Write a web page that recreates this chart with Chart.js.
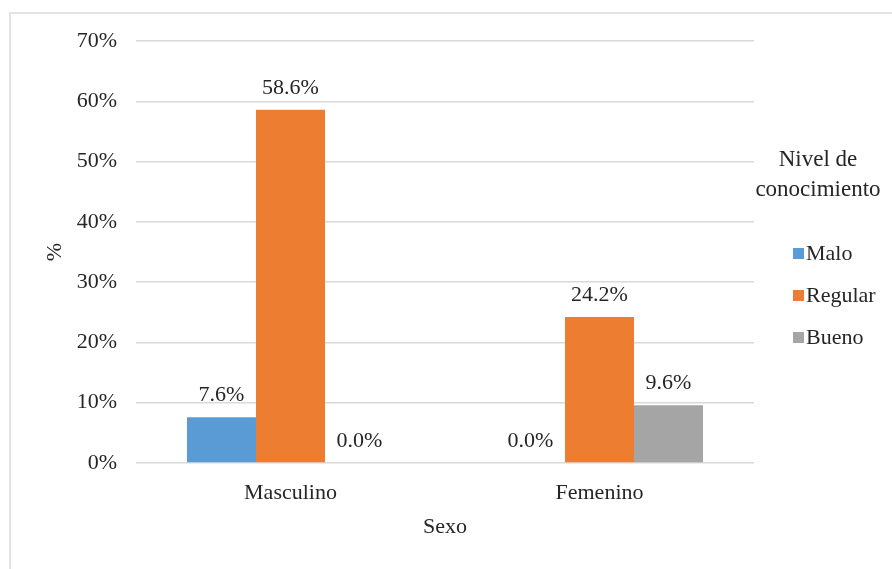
<!DOCTYPE html>
<html>
<head>
<meta charset="utf-8">
<script src="https://cdn.jsdelivr.net/npm/chart.js@4/dist/chart.umd.min.js"></script>
<style>
  html, body { margin: 0; padding: 0; background: #fff; }
  #wrap { position: relative; width: 892px; height: 569px; overflow: hidden; }
  #frame { position: absolute; left: 9px; top: 12px; width: 1000px; height: 1000px;
           border-left: 2px solid #e3e3e3; border-top: 2px solid #e3e3e3; box-sizing: border-box; }
  canvas { position: absolute; left: 0; top: 0; }
</style>
</head>
<body>
<div id="wrap">
  <div id="frame"></div>
  <canvas id="c" width="892" height="569"></canvas>
</div>
<script>
// Porcentaje de nivel de conocimiento según sexo
const categories = ['Masculino', 'Femenino'];
const seriesNames = ['Malo', 'Regular', 'Bueno'];
const malo = [7.6, 0.0];
const regular = [58.6, 24.2];
const bueno = [0.0, 9.6];
const legendTitle = ['Nivel de', 'conocimiento'];
const xTitle = 'Sexo';
const yTitle = '%';

const colors = ['#5B9BD5', '#ED7D31', '#A5A5A5'];
const textColor = '#262626';
const serif = "'Liberation Serif', 'DejaVu Serif', serif";
const fontSize = 22;

const valueLabels = {
  id: 'valueLabels',
  afterDatasetsDraw(chart) {
    const ctx = chart.ctx;
    ctx.save();
    ctx.font = fontSize + 'px ' + serif;
    ctx.fillStyle = textColor;
    ctx.textAlign = 'center';
    ctx.textBaseline = 'bottom';
    chart.data.datasets.forEach((ds, i) => {
      const meta = chart.getDatasetMeta(i);
      meta.data.forEach((bar, j) => {
        ctx.fillText(ds.data[j].toFixed(1) + '%', bar.x, bar.y - 11);
      });
    });
    ctx.restore();
  }
};

const sideLegend = {
  id: 'sideLegend',
  afterDraw(chart) {
    const ctx = chart.ctx;
    ctx.save();
    ctx.fillStyle = textColor;
    ctx.font = '23px ' + serif;
    ctx.textAlign = 'center';
    ctx.textBaseline = 'middle';
    legendTitle.forEach((t, k) => ctx.fillText(t, 818, 160 + k * 30));
    ctx.font = fontSize + 'px ' + serif;
    ctx.textAlign = 'left';
    chart.data.datasets.forEach((ds, i) => {
      const y = 253 + i * 42;
      ctx.fillStyle = ds.backgroundColor;
      ctx.fillRect(793, y - 5, 11, 11);
      ctx.fillStyle = textColor;
      ctx.fillText(ds.label, 806, y + 1);
    });
    ctx.restore();
  }
};

function draw() {
  const f = { family: serif, size: fontSize };
  new Chart(document.getElementById('c'), {
    type: 'bar',
    data: {
      labels: categories,
      datasets: [
        { label: seriesNames[0], data: malo, backgroundColor: colors[0] },
        { label: seriesNames[1], data: regular, backgroundColor: colors[1] },
        { label: seriesNames[2], data: bueno, backgroundColor: colors[2] }
      ]
    },
    options: {
      responsive: false,
      animation: false,
      devicePixelRatio: 1,
      font: f,
      layout: { padding: { left: 42, right: 138, top: 41, bottom: 29 } },
      datasets: { bar: { categoryPercentage: 0.67, barPercentage: 1.0 } },
      plugins: { legend: { display: false }, tooltip: { enabled: false } },
      scales: {
        x: {
          grid: { display: false, drawTicks: false },
          border: { display: false },
          ticks: { color: textColor, font: f, padding: 17 },
          title: { display: true, text: xTitle, color: textColor, font: f, padding: 0 },
          afterFit(scale) { scale.height = 77; }
        },
        y: {
          min: 0, max: 70,
          grid: { color: '#d9d9d9', lineWidth: 1.5, drawTicks: false },
          border: { display: false },
          ticks: { stepSize: 10, color: textColor, font: f, padding: 19,
                   callback: v => v + '%' },
          title: { display: true, text: yTitle, color: textColor, font: f, padding: 0 },
          afterFit(scale) { scale.width = 94; }
        }
      }
    },
    plugins: [valueLabels, sideLegend]
  });
}

Chart.defaults.font.family = serif;
if (document.fonts && document.fonts.load) {
  document.fonts.load(fontSize + "px 'Liberation Serif'").then(draw, draw);
} else {
  draw();
}
</script>
</body>
</html>
